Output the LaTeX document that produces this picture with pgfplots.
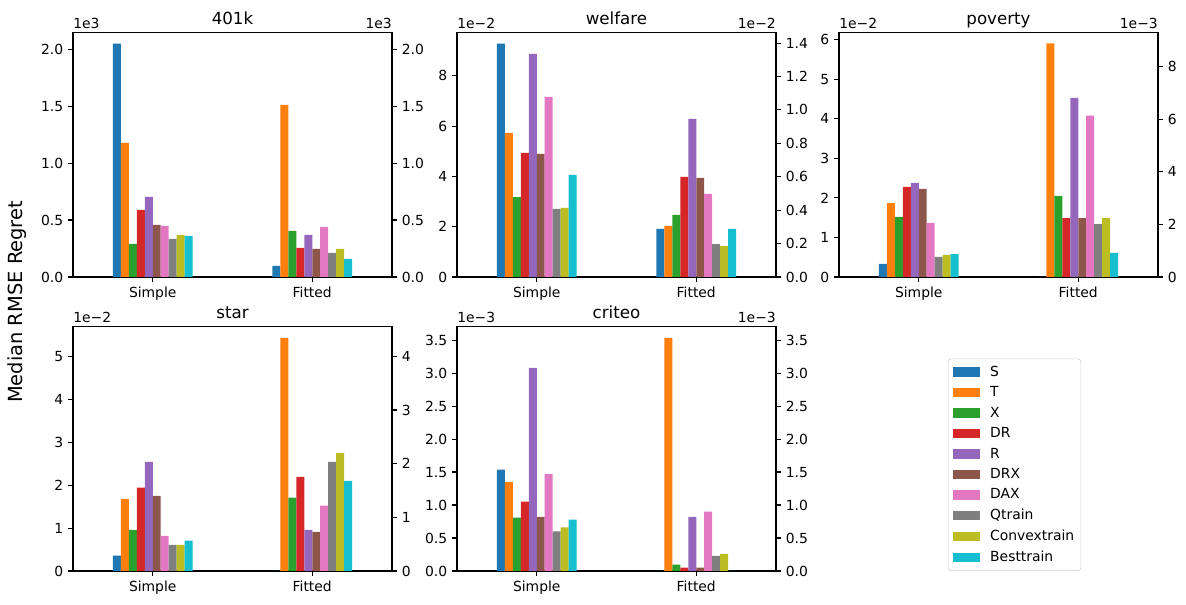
\documentclass[border=0pt]{standalone}
\usepackage{pgfplots}
\usepackage{pgfplotstable}
\pgfplotsset{compat=1.18}
\usepackage{fontspec}
\setmainfont{DejaVu Sans}

\definecolor{c0}{HTML}{1F77B4}
\definecolor{c1}{HTML}{FF7F0E}
\definecolor{c2}{HTML}{2CA02C}
\definecolor{c3}{HTML}{D62728}
\definecolor{c4}{HTML}{9467BD}
\definecolor{c5}{HTML}{8C564B}
\definecolor{c6}{HTML}{E377C2}
\definecolor{c7}{HTML}{7F7F7F}
\definecolor{c8}{HTML}{BCBD22}
\definecolor{c9}{HTML}{17BECF}

% values in units of the left axis (Simple at x=0, Fitted at x=1)
\pgfplotstableread{
x S T X DR R DRX DAX Q C B
0 2.05 1.177 0.29 0.589 0.703 0.457 0.448 0.334 0.369 0.360
1 0.097 1.511 0.404 0.255 0.369 0.246 0.439 0.211 0.246 0.158
}\tabA
\pgfplotstableread{
x S T X DR R DRX DAX Q C B
0 9.28 5.73 3.18 4.93 8.87 4.89 7.16 2.71 2.75 4.06
1 1.91 2.03 2.47 3.98 6.29 3.94 3.30 1.31 1.23 1.91
}\tabB
\pgfplotstableread{
x S T X DR R DRX DAX Q C B
0 0.33 1.87 1.52 2.28 2.38 2.23 1.37 0.51 0.56 0.58
1 0 5.91 2.05 1.49 4.53 1.49 4.08 1.34 1.49 0.61
}\tabC
\pgfplotstableread{
x S T X DR R DRX DAX Q C B
0 0.36 1.68 0.96 1.94 2.54 1.75 0.82 0.61 0.61 0.71
1 0 5.43 1.71 2.19 0.96 0.91 1.52 2.54 2.75 2.10
}\tabD
\pgfplotstableread{
x S T X DR R DRX DAX Q C B
0 1.535 1.35 0.81 1.05 3.08 0.82 1.47 0.60 0.66 0.78
1 0 3.535 0.096 0.05 0.82 0.05 0.90 0.23 0.26 0
}\tabE

\newcommand{\tenbars}[1]{%
  \addplot[ybar, bar width=0.05, bar shift=-0.225, fill=c0, draw=none] table[x=x,y=S]{#1};
  \addplot[ybar, bar width=0.05, bar shift=-0.175, fill=c1, draw=none] table[x=x,y=T]{#1};
  \addplot[ybar, bar width=0.05, bar shift=-0.125, fill=c2, draw=none] table[x=x,y=X]{#1};
  \addplot[ybar, bar width=0.05, bar shift=-0.075, fill=c3, draw=none] table[x=x,y=DR]{#1};
  \addplot[ybar, bar width=0.05, bar shift=-0.025, fill=c4, draw=none] table[x=x,y=R]{#1};
  \addplot[ybar, bar width=0.05, bar shift=0.025, fill=c5, draw=none] table[x=x,y=DRX]{#1};
  \addplot[ybar, bar width=0.05, bar shift=0.075, fill=c6, draw=none] table[x=x,y=DAX]{#1};
  \addplot[ybar, bar width=0.05, bar shift=0.125, fill=c7, draw=none] table[x=x,y=Q]{#1};
  \addplot[ybar, bar width=0.05, bar shift=0.175, fill=c8, draw=none] table[x=x,y=C]{#1};
  \addplot[ybar, bar width=0.05, bar shift=0.225, fill=c9, draw=none] table[x=x,y=B]{#1};
}

\pgfplotsset{
  base/.style={
    scale only axis, width=229.68pt, height=176.2pt, anchor=south west,
    xmin=-0.5, xmax=1.5, ymin=0, clip=false,
    tick align=outside, major tick length=3.5pt,
    every tick/.style={black, line width=0.8pt},
    axis line style={line width=0.8pt},
    tick label style={font=\fontsize{10}{12}\selectfont},
    /pgf/number format/assume math mode=true,
    every axis title/.style={at={(0.5,1)}, anchor=base, yshift=5.8pt, font=\fontsize{12}{14}\selectfont},
  },
  leftax/.style={base,
    xtick={0,1}, xticklabels={Simple,Fitted}, xtick pos=bottom, ytick pos=left,
  },
  rightax/.style={base, axis x line=none, axis y line*=right, ytick pos=right},
}
\tikzset{
  off/.style={anchor=base west, inner sep=0pt, font=\fontsize{10}{12}\selectfont, yshift=3pt},
  offr/.style={anchor=base east, inner sep=0pt, font=\fontsize{10}{12}\selectfont, yshift=3pt},
}

\begin{document}
\begin{tikzpicture}
\useasboundingbox (0,0) rectangle (853.92pt,435.6pt);

% ---------- 401k
\begin{axis}[leftax, at={(52.56pt,236.16pt)}, title={401k}, ymax=2.149,
  ytick={0,0.5,1,1.5,2}, yticklabels={0.0,0.5,1.0,1.5,2.0}]
\tenbars{\tabA}
\node[off] at (rel axis cs:0,1) {1e3};
\end{axis}
\begin{axis}[rightax, at={(52.56pt,236.16pt)}, ymax=2.149,
  ytick={0,0.5,1,1.5,2}, yticklabels={0.0,0.5,1.0,1.5,2.0}]
\addplot[draw=none] coordinates {(0,0)};
\node[offr] at (rel axis cs:1,1) {1e3};
\end{axis}

% ---------- welfare
\begin{axis}[leftax, at={(329.04pt,236.16pt)}, title={welfare}, ymax=9.73,
  ytick={0,2,4,6,8}, yticklabels={0,2,4,6,8}]
\tenbars{\tabB}
\node[off] at (rel axis cs:0,1) {1e−2};
\end{axis}
\begin{axis}[rightax, at={(329.04pt,236.16pt)}, ymax=1.465,
  ytick={0,0.2,0.4,0.6,0.8,1.0,1.2,1.4}, yticklabels={0.0,0.2,0.4,0.6,0.8,1.0,1.2,1.4}]
\addplot[draw=none] coordinates {(0,0)};
\node[offr] at (rel axis cs:1,1) {1e−2};
\end{axis}

% ---------- poverty
\begin{axis}[leftax, at={(604.08pt,236.16pt)}, title={poverty}, ymax=6.19,
  ytick={0,1,2,3,4,5,6}, yticklabels={0,1,2,3,4,5,6}]
\tenbars{\tabC}
\node[off] at (rel axis cs:0,1) {1e−2};
\end{axis}
\begin{axis}[rightax, at={(604.08pt,236.16pt)}, ymax=9.30,
  ytick={0,2,4,6,8}, yticklabels={0,2,4,6,8}]
\addplot[draw=none] coordinates {(0,0)};
\node[offr] at (rel axis cs:1,1) {1e−3};
\end{axis}

% ---------- star
\begin{axis}[leftax, at={(52.56pt,24.48pt)}, title={star}, ymax=5.70,
  ytick={0,1,2,3,4,5}, yticklabels={0,1,2,3,4,5}]
\tenbars{\tabD}
\node[off] at (rel axis cs:0,1) {1e−2};
\end{axis}
\begin{axis}[rightax, at={(52.56pt,24.48pt)}, ymax=4.56,
  ytick={0,1,2,3,4}, yticklabels={0,1,2,3,4}]
\addplot[draw=none] coordinates {(0,0)};
\end{axis}

% ---------- criteo
\begin{axis}[leftax, at={(329.04pt,24.48pt)}, title={criteo}, ymax=3.71,
  ytick={0,0.5,1,1.5,2,2.5,3,3.5}, yticklabels={0.0,0.5,1.0,1.5,2.0,2.5,3.0,3.5}]
\tenbars{\tabE}
\node[off] at (rel axis cs:0,1) {1e−3};
\end{axis}
\begin{axis}[rightax, at={(329.04pt,24.48pt)}, ymax=3.71,
  ytick={0,0.5,1,1.5,2,2.5,3,3.5}, yticklabels={0.0,0.5,1.0,1.5,2.0,2.5,3.0,3.5}]
\addplot[draw=none] coordinates {(0,0)};
\node[offr] at (rel axis cs:1,1) {1e−3};
\end{axis}

% ---------- legend
\begin{axis}[base, at={(604.08pt,24.48pt)}, hide axis, ymax=1,
  legend cell align=left,
  legend image code/.code={\fill[#1, draw=none, sharp corners] (0pt,-3.3pt) rectangle (20pt,3.3pt);},
  legend style={at={(0.55,0)}, anchor=south, draw=black!20, rounded corners=2pt,
    fill=white, font=\fontsize{10}{12}\selectfont, row sep=2.95pt, column sep=5.6pt,
    inner xsep=3.2pt, inner ysep=3.5pt,
    nodes={inner sep=1.5pt}}]
\addlegendimage{fill=c0}\addlegendentry{S}
\addlegendimage{fill=c1}\addlegendentry{T}
\addlegendimage{fill=c2}\addlegendentry{X}
\addlegendimage{fill=c3}\addlegendentry{DR}
\addlegendimage{fill=c4}\addlegendentry{R}
\addlegendimage{fill=c5}\addlegendentry{DRX}
\addlegendimage{fill=c6}\addlegendentry{DAX}
\addlegendimage{fill=c7}\addlegendentry{Qtrain}
\addlegendimage{fill=c8}\addlegendentry{Convextrain}
\addlegendimage{fill=c9}\addlegendentry{Besttrain}
\end{axis}

\node[rotate=90, font=\fontsize{14}{17}\selectfont] at (12.24pt,218.2pt) {Median RMSE Regret};
\end{tikzpicture}
\end{document}
